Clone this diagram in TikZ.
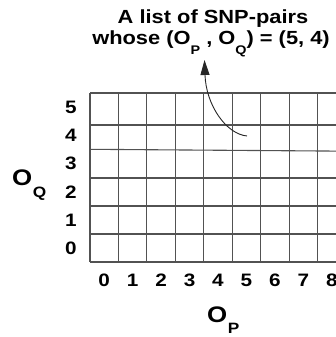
\documentclass[tikz,border=0pt]{standalone}
\usepackage{fontspec}
\setmainfont{Liberation Sans}[FakeStretch=1.15]
\usetikzlibrary{arrows.meta}
\tikzset{
  gridline/.style={line width=1.1pt, draw=black!68},
  ticklab/.style={font=\fontsize{18}{18}\selectfont\bfseries, inner sep=0pt},
  axislab/.style={font=\fontsize{22.5}{22.5}\selectfont\bfseries, inner sep=0pt, anchor=base west},
  titlelab/.style={font=\fontsize{19}{19}\selectfont\bfseries, inner sep=0pt, anchor=base},
  pointer/.style={line width=0.9pt, draw=black!85, -{Triangle[length=15pt,width=9pt]}}
}
\newcommand{\subP}[2]{\raisebox{-#1}{\fontsize{#2}{#2}\selectfont P}}
\newcommand{\subQ}[2]{\raisebox{-#1}{\fontsize{#2}{#2}\selectfont Q}}
\begin{document}
\begin{tikzpicture}[x=1pt,y=-1pt]
\useasboundingbox (0,0) rectangle (336,337);
\begin{scope}
\clip (0,0) rectangle (336,337);
% vertical grid lines
\foreach \i in {0,...,9} {
  \draw[gridline] ({90+28.45*\i},93) -- ({90+28.45*\i},262);
}
% horizontal grid lines
\foreach \y in {93,125,178,206,234,262} {
  \draw[gridline] (90,\y) -- (350,\y);
}
\draw[gridline] (90,149.3) -- (350,151.2);
\end{scope}
% row labels
\foreach \lab/\y in {5/107.5,4/135,3/163.5,2/192,1/220,0/248} {
  \node[ticklab] (r\lab) at (71,\y) {\lab};
}
% column labels
\foreach \lab in {0,...,8} {
  \node[ticklab] (c\lab) at ({104.2+28.45*\lab},280) {\lab};
}
% axis labels
\node[axislab] (oq) at (12,185) {O\kern0.5pt\subQ{12pt}{15}};
\node[axislab] (op) at (207,322) {O\kern0.5pt\subP{11pt}{15}};
% title
\node[titlelab] (t1) at (213,23.3) {A list of SNP-pairs};
\node[titlelab] (t2) at (211,45) {whose (O\subP{10pt}{12.5} , O\subQ{10pt}{12.5}) = (5, 4)};
% pointer
\coordinate (cell) at (247,136);
\coordinate (tip) at (204.5,60);
\draw[pointer] (cell) .. controls (226,134) and (206,105) .. (tip);
\end{tikzpicture}
\end{document}
